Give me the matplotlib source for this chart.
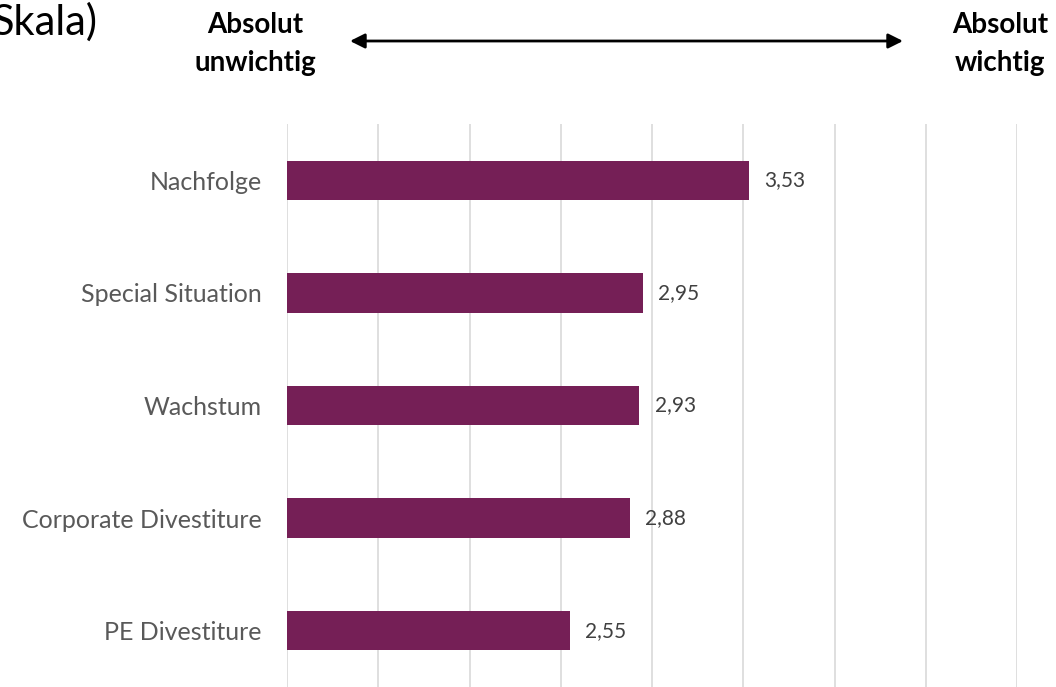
import matplotlib.pyplot as plt
from matplotlib.patches import FancyArrowPatch
import numpy as np

categories = ['Nachfolge', 'Special Situation', 'Wachstum', 'Corporate Divestiture', 'PE Divestiture']
values = [3.53, 2.95, 2.93, 2.88, 2.55]
bar_color = '#751F56'

plt.rcParams['font.family'] = ['Lato', 'DejaVu Sans']

fig = plt.figure(figsize=(10.56, 6.87), dpi=100)
ax = fig.add_axes([287 / 1056, 0, 730 / 1056, 1 - 124 / 687])

y = np.arange(len(categories))
ax.barh(y, [v - 1 for v in values], left=1, height=0.35, color=bar_color, zorder=3)

for yi, v in zip(y, values):
    ax.annotate(f"{v:.2f}".replace('.', ','), xy=(v, yi), xytext=(11, 0),
                textcoords='offset points', va='center', ha='left',
                fontsize=15, color='#404040')

ax.set_xlim(1, 5)
ax.set_ylim(len(categories) - 0.5, -0.5)
ax.set_xticks(np.arange(1, 5.01, 0.5))
ax.set_xticklabels([])
ax.set_yticks(y)
ax.set_yticklabels(categories, fontsize=18, color='#595959')
ax.tick_params(axis='y', length=0, pad=18)
ax.tick_params(axis='x', length=0)
ax.grid(axis='x', color='#d9d9d9', linewidth=1.2, zorder=0)
for s in ax.spines.values():
    s.set_visible(False)

# header texts
fig.text(98 / 1056, 1 - 22 / 687, 'Skala)', fontsize=30, color='#000000', ha='right', va='center')
fig.text(255 / 1056, 1 - 44 / 687, 'Absolut\nunwichtig', fontsize=20, fontweight='bold',
         ha='center', va='center', linespacing=1.6)
fig.text(1000 / 1056, 1 - 44 / 687, 'Absolut\nwichtig', fontsize=20, fontweight='bold',
         ha='center', va='center', linespacing=1.6)

arrow = FancyArrowPatch((350 / 1056, 1 - 41 / 687), (903 / 1056, 1 - 41 / 687),
                        transform=fig.transFigure, arrowstyle='<|-|>', mutation_scale=22,
                        color='black', linewidth=2, shrinkA=0, shrinkB=0)
fig.patches.append(arrow)

plt.savefig('out.png', dpi=100)
